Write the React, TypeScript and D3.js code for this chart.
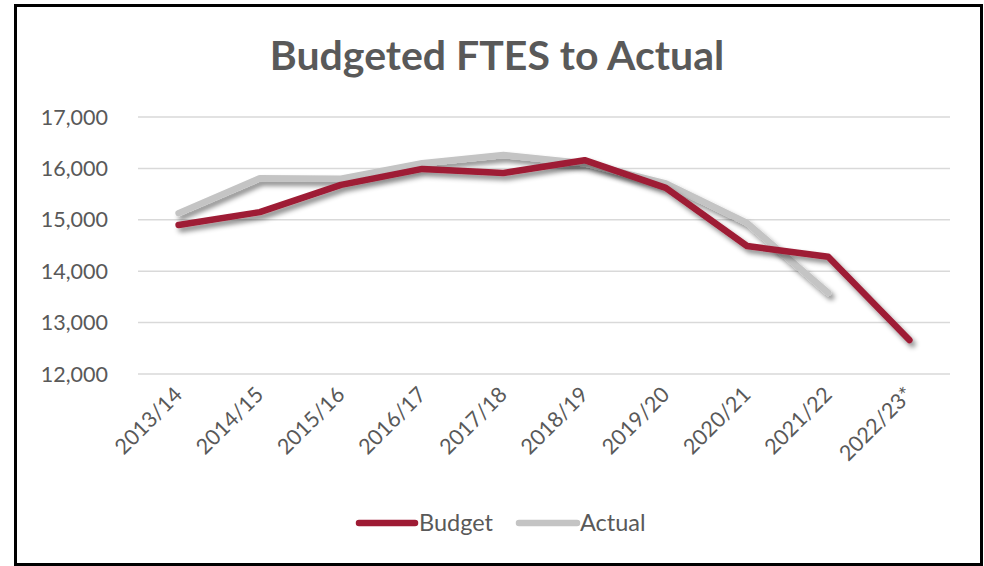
import React from "react";
import * as d3 from "d3";

const categories = ["2013/14","2014/15","2015/16","2016/17","2017/18","2018/19","2019/20","2020/21","2021/22","2022/23*"];
const budget = [14900,15150,15680,15990,15910,16160,15620,14490,14280,12660];
const actual = [15130,15810,15800,16100,16260,16100,15710,14940,13580];
const yTicks = [12000,13000,14000,15000,16000,17000];

const W = 984, H = 566;
const FONT = "Lato, 'Open Sans', sans-serif";

export default function App() {
  const x = d3.scaleBand<string>().domain(categories).range([138, 950]);
  const y = d3.scaleLinear().domain([12000, 17000]).range([374, 117]);
  const cx = (c: string) => (x(c) as number) + x.bandwidth() / 2;
  const line = d3.line<number>().x((_, i) => cx(categories[i])).y(d => y(d));
  return (
    <svg width={W} height={H} style={{ position: "fixed", left: 0, top: 0, display: "block" }} fontFamily={FONT}>
      <defs>
        <filter id="sh" x="-10%" y="-10%" width="130%" height="130%">
          <feDropShadow dx="3" dy="4" stdDeviation="2.5" floodColor="#000" floodOpacity="0.45" />
        </filter>
      </defs>
      <rect x={0} y={0} width={W} height={H} fill="#fff" />
      <rect x={15.5} y={5.5} width={966} height={559} fill="#fff" stroke="#000" strokeWidth={3} />
      <text x={497} y={70} textAnchor="middle" fontSize={41} fontWeight="bold" fill="#595959">Budgeted FTES to Actual</text>
      {yTicks.map(t => (
        <g key={t}>
          <line x1={138} x2={950} y1={y(t)} y2={y(t)} stroke="#d9d9d9" strokeWidth={1.5} />
          <text x={108} y={y(t)} dy="0.35em" textAnchor="end" fontSize={21.5} fill="#595959">{d3.format(",")(t)}</text>
        </g>
      ))}
      {categories.map(c => (
        <text key={c} transform={`translate(${cx(c) + 5},${396}) rotate(-45)`} textAnchor="end" fontSize={21.5} fill="#595959">{c}</text>
      ))}
      <path d={line(actual) || ""} fill="none" stroke="#c4c4c4" strokeWidth={6.5} strokeLinecap="round" strokeLinejoin="round" filter="url(#sh)" />
      <path d={line(budget) || ""} fill="none" stroke="#9e1b34" strokeWidth={6.5} strokeLinecap="round" strokeLinejoin="round" filter="url(#sh)" />
      <g>
        <line x1={359} x2={415} y1={523} y2={523} stroke="#9e1b34" strokeWidth={6.5} strokeLinecap="round" />
        <text x={419} y={523} dy="0.35em" fontSize={23.5} fill="#595959">Budget</text>
        <line x1={519} x2={577} y1={523} y2={523} stroke="#c4c4c4" strokeWidth={6.5} strokeLinecap="round" />
        <text x={580} y={523} dy="0.35em" fontSize={23.5} fill="#595959">Actual</text>
      </g>
    </svg>
  );
}
